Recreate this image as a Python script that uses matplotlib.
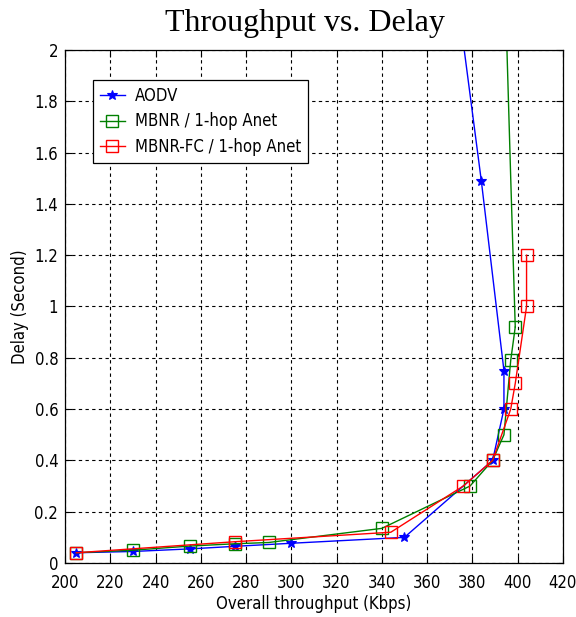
import matplotlib
matplotlib.use("Agg")
import matplotlib.pyplot as plt
from matplotlib.ticker import FixedLocator
from matplotlib import font_manager as fm

# Data
aodv_x = [205, 230, 255, 275, 300, 350, 389, 394, 394, 384, 372]
aodv_y = [0.04, 0.045, 0.055, 0.065, 0.077, 0.10, 0.40, 0.60, 0.75, 1.49, 2.30]

mbnr_x = [205, 230, 255, 275, 290, 340, 379, 389, 394, 397, 399, 397, 395]
mbnr_y = [0.04, 0.05, 0.066, 0.075, 0.08, 0.135, 0.30, 0.40, 0.50, 0.79, 0.92, 1.50, 2.10]

fc_x = [205, 275, 344, 376, 389, 397, 399, 404, 404]
fc_y = [0.04, 0.083, 0.12, 0.30, 0.40, 0.60, 0.70, 1.00, 1.20]

xticks = [200, 220, 240, 260, 280, 300, 320, 340, 360, 380, 400, 420]
yticks = [0, 0.2, 0.4, 0.6, 0.8, 1.0, 1.2, 1.4, 1.6, 1.8, 2.0]
ytick_labels = ["0", "0.2", "0.4", "0.6", "0.8", "1", "1.2", "1.4", "1.6", "1.8", "2"]

# find a narrow / condensed sans font if installed
narrow_path = None
prefs = ['liberationsansnarrow-regular', 'arialnarrow', 'arialn.ttf',
         'dejavusanscondensed.ttf', 'robotocondensed-regular',
         'opensans_condensed-regular', 'opensanscondensed']
files = [f.fname for f in fm.fontManager.ttflist]
for p in prefs:
    for fn in files:
        if p in fn.lower().replace(' ', '').replace('_', '') or p in fn.lower():
            narrow_path = fn
            break
    if narrow_path:
        break
if narrow_path is None:
    for f in fm.fontManager.ttflist:
        n = (f.name + f.fname).lower()
        if ('narrow' in n or 'condensed' in n) and 'bold' not in n and 'italic' not in n \
                and 'oblique' not in n and 'mono' not in n and 'serif' not in n \
                and 'cjk' not in n:
            narrow_path = f.fname
            break

FS = 12
if narrow_path:
    fp = fm.FontProperties(fname=narrow_path, size=FS)
else:
    fp = fm.FontProperties(family=['Liberation Sans', 'DejaVu Sans'], size=11.5)

fig = plt.figure(figsize=(5.76, 6.17), dpi=100)
ax = fig.add_axes([0.113, 0.0875, 0.864, 0.8315])

ax.plot(aodv_x, aodv_y, color='#0000ff', lw=1.0, marker='*', ms=7, mew=0.8,
        label='AODV')
ax.plot(mbnr_x[:11], mbnr_y[:11], color='#008000', lw=1.0, marker='s', ms=9,
        mfc='none', mew=1.0, label='MBNR / 1-hop Anet')
ax.plot(mbnr_x[10:], mbnr_y[10:], color='#008000', lw=1.0)
ax.plot(fc_x, fc_y, color='#ff0000', lw=1.0, marker='s', ms=9, mfc='none',
        mew=1.0, label='MBNR-FC / 1-hop Anet')

ax.set_xlim(200, 420)
ax.set_ylim(0, 2)
ax.xaxis.set_major_locator(FixedLocator(xticks))
ax.set_yticks(yticks)
ax.set_yticklabels(ytick_labels)
ax.tick_params(direction='in', top=True, right=True, length=5,
               width=0.8, colors='black')
ax.tick_params(axis='y', pad=5)
ax.tick_params(axis='x', pad=8)
for lab in ax.get_xticklabels() + ax.get_yticklabels():
    lab.set_fontproperties(fp)
ax.grid(True, color='black', linestyle=(0, (3, 3)), linewidth=0.8)
for s in ax.spines.values():
    s.set_linewidth(0.9)

ax.set_xlabel('Overall throughput (Kbps)', fontproperties=fp, labelpad=2)
ax.set_ylabel('Delay (Second)', fontproperties=fp)

leg = ax.legend(loc='upper left', bbox_to_anchor=(0.056, 0.941), prop=fp,
                frameon=True, fancybox=False, edgecolor='black',
                framealpha=1, borderpad=0.4, borderaxespad=0,
                handlelength=1.5, handletextpad=0.6, labelspacing=0.45)
leg.get_frame().set_linewidth(0.9)

fig.text(0.53, 0.962, 'Throughput vs. Delay', ha='center', va='center',
         fontsize=23, family=['Liberation Serif', 'DejaVu Serif'])

fig.savefig('out.png', dpi=100)
